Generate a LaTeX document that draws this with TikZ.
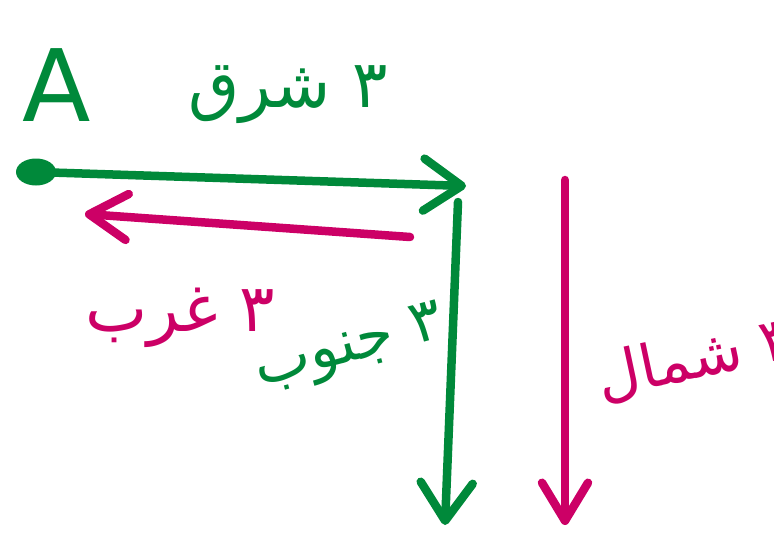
\documentclass[tikz,border=0pt]{standalone}
\usepackage{fontspec}
\setmainfont{DejaVu Sans}
\newfontfamily\arabicfont[Script=Arabic]{DejaVu Sans}
\TeXXeTstate=1
\usetikzlibrary{arrows.meta,shapes.geometric}
\definecolor{pgreen}{RGB}{0,137,58}
\definecolor{pmag}{RGB}{204,0,102}
\begin{document}
\begin{tikzpicture}[x=1pt,y=-1pt,
  pen/.style={line width=8.5pt, line cap=round, line join=round},
  greenarrow/.style={pen, draw=pgreen, -{Straight Barb[length=38pt,width=52pt,line width=8.5pt,round]}},
  magarrow/.style={pen, draw=pmag, -{Straight Barb[length=38pt,width=46pt,line width=8.5pt,round]}},
  arlabel/.style={font=\arabicfont\fontsize{66}{66}\selectfont, inner sep=0pt}]
\useasboundingbox (0,0) rectangle (774,535);
\node[ellipse, fill=pgreen, inner sep=0pt, minimum width=40pt, minimum height=27pt] (dot) at (36,172) {};
\node[text=pgreen, font=\fontsize{100}{100}\selectfont, inner sep=0pt] (lblA) at (57,85) {A};
\coordinate (e1) at (466,186);
\coordinate (s2) at (458,202);
\coordinate (e2) at (445,525);
\coordinate (m1) at (410,237);
\coordinate (m2) at (85,214);
\coordinate (m3) at (565,180);
\coordinate (m4) at (565,525);
\draw[greenarrow] (dot.center) -- (e1);
\draw[greenarrow] (s2) -- (e2);
\draw[magarrow] (m1) -- (m2);
\draw[magarrow] (m3) -- (m4);
\node[arlabel, text=pgreen] (east) at (288,95) {\beginR ٣ شرق\endR};
\node[arlabel, text=pmag] (west) at (180,318) {\beginR ٣ غرب\endR};
\node[arlabel, text=pgreen, rotate=15, font=\arabicfont\fontsize{60}{60}\selectfont] (south) at (350,350) {\beginR ٣ جنوب\endR};
\node[arlabel, text=pmag, rotate=12, font=\arabicfont\fontsize{60}{60}\selectfont] (north) at (695,360) {\beginR ٣ شمال\endR};
\end{tikzpicture}
\end{document}
